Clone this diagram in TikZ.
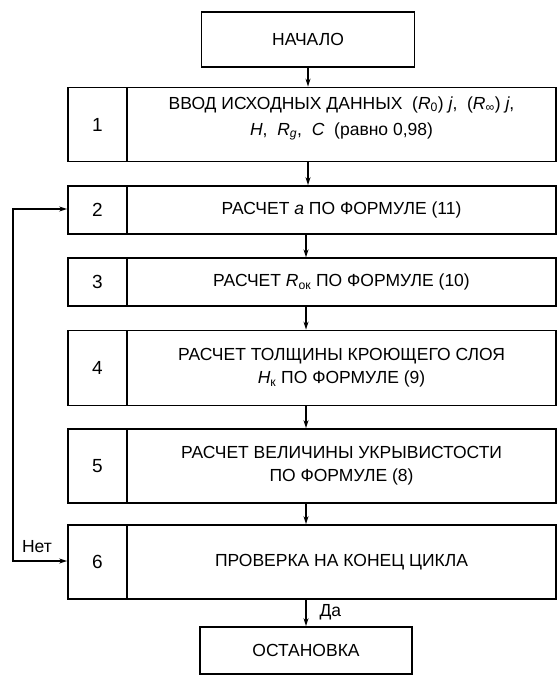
\documentclass[tikz,border=0pt]{standalone}
\usepackage{fontspec}
\setmainfont{Liberation Sans}
\usetikzlibrary{arrows.meta}

\begin{document}
\begin{tikzpicture}[x=1pt, y=-1pt, >={Stealth[length=8pt,width=5pt]},
	every node/.style={font=\fontsize{17.5}{23}\selectfont},
	box/.style={draw, black, line width=1.8pt, inner sep=0pt, align=center},
	numcell/.style={box, minimum width=59pt, font=\fontsize{19}{23}\selectfont},
	txtcell/.style={box, minimum width=429pt},
	link/.style={->, black, line width=1.5pt}]
	\useasboundingbox (0,0) rectangle (557,676);
	\node[box, minimum width=213pt, minimum height=55pt] (start) at (308,39.5) {НАЧАЛО};
	\node[numcell, minimum height=74pt] (n1) at (97.5,124.5) {1};
	\node[txtcell, minimum height=74pt] (t1) at (341.5,124.5) {ВВОД ИСХОДНЫХ ДАННЫХ~~(\textit{R}\textsubscript{0})~\textit{j},~~(\textit{R}\textsubscript{∞})~\textit{j},\\[3pt]\textit{H},~~\textit{R}\textsubscript{\textit{g}},~~\textit{C}~~(равно 0,98)\\[-6pt]\mbox{}};
	\node[numcell, minimum height=48pt] (n2) at (97.5,210) {2};
	\node[txtcell, minimum height=48pt] (t2) at (341.5,210) {РАСЧЕТ \textit{a} ПО ФОРМУЛЕ (11)};
	\node[numcell, minimum height=47.5pt] (n3) at (97.5,282) {3};
	\node[txtcell, minimum height=47.5pt] (t3) at (341.5,282) {РАСЧЕТ \textit{R}\textsubscript{ок} ПО ФОРМУЛЕ (10)};
	\node[numcell, minimum height=75pt] (n4) at (97.5,368) {4};
	\node[txtcell, minimum height=75pt] (t4) at (341.5,368) {РАСЧЕТ ТОЛЩИНЫ КРОЮЩЕГО СЛОЯ\\\textit{H}\textsubscript{к} ПО ФОРМУЛЕ (9)};
	\node[numcell, minimum height=74pt] (n5) at (97.5,466) {5};
	\node[txtcell, minimum height=74pt] (t5) at (341.5,466) {РАСЧЕТ ВЕЛИЧИНЫ УКРЫВИСТОСТИ\\ПО ФОРМУЛЕ (8)};
	\node[numcell, minimum height=74pt] (n6) at (97.5,562) {6};
	\node[txtcell, minimum height=74pt] (t6) at (341.5,562) {ПРОВЕРКА НА КОНЕЦ ЦИКЛА};
	\node[box, minimum width=212pt, minimum height=47pt] (stop) at (306,650.5) {ОСТАНОВКА};
	\draw[link] (start.south) -- (start.south |- t1.north);
	\draw[link] (start.south |- t1.south) -- (start.south |- t2.north);
	\draw[link] (stop.north |- t2.south) -- (stop.north |- t3.north);
	\draw[link] (stop.north |- t3.south) -- (stop.north |- t4.north);
	\draw[link] (stop.north |- t4.south) -- (stop.north |- t5.north);
	\draw[link] (stop.north |- t5.south) -- (stop.north |- t6.north);
	\draw[link] (stop.north |- t6.south) -- (stop.north);
	\coordinate (loopbot) at (13,561);
	\coordinate (looptop) at (13,209);
	\draw[link, <->] (n6.west |- loopbot) -- (loopbot) -- (looptop) -- (n2.west |- looptop);
	\node (no) at (37,547) {Нет};
	\node[anchor=west] (yes) at (316,612) {Да};
\end{tikzpicture}
\end{document}
